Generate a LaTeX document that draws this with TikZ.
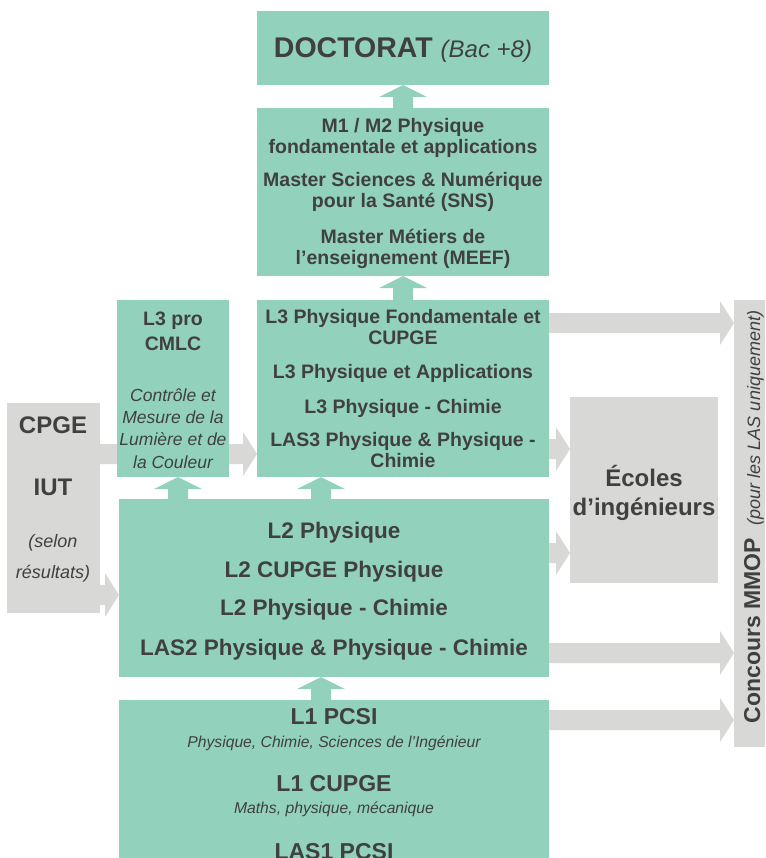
\documentclass[tikz,border=0pt]{standalone}
\usepackage{fontspec}
\setmainfont{Liberation Sans}
\usetikzlibrary{calc}
\definecolor{grn}{RGB}{146,210,189}
\definecolor{gry}{RGB}{216,217,214}
\definecolor{txt}{RGB}{64,64,64}
\newcommand\fsz[2]{\fontsize{#1}{#2}\selectfont}
% horizontal block arrow: start, tip, colour
\newcommand\harr[3]{%
  \fill[#3] let \p1=(#1), \p2=(#2) in
   (\x1,\y1+10pt) -- (\x2-14pt,\y1+10pt) -- (\x2-14pt,\y1+22pt) -- (\x2,\y1)
   -- (\x2-14pt,\y1-22pt) -- (\x2-14pt,\y1-10pt) -- (\x1,\y1-10pt) -- cycle;}
% vertical (upward) block arrow: start, tip, colour
\newcommand\varr[3]{%
  \fill[#3] let \p1=(#1), \p2=(#2) in
   (\x1-10pt,\y1) -- (\x1-10pt,\y2-12pt) -- (\x1-24pt,\y2-12pt) -- (\x1,\y2)
   -- (\x1+24pt,\y2-12pt) -- (\x1+10pt,\y2-12pt) -- (\x1+10pt,\y1) -- cycle;}
\begin{document}
\begin{tikzpicture}[x=1pt,y=-1pt,
  box/.style={draw=none, inner sep=0pt, outer sep=0pt},
  gbox/.style={box, fill=grn},
  ybox/.style={box, fill=gry},
  lbl/.style={text=txt, align=center, anchor=base, inner sep=0pt},
  bmas/.style={lbl, font=\fsz{19.5}{21}\bfseries},
  bl2/.style={lbl, font=\fsz{22.5}{24}\bfseries},
  bl1/.style={lbl, font=\fsz{23}{25}\bfseries},
  il1/.style={lbl, font=\fsz{15.7}{18}\itshape},
  big/.style={lbl, font=\fsz{24}{29}\bfseries}]
\useasboundingbox (0,0) rectangle (765,858);
\clip (0,0) rectangle (765,858);

% boxes
\node[gbox, minimum width=292pt, minimum height=74pt]  (doc) at (403,48) {};
\node[gbox, minimum width=292pt, minimum height=168pt] (mst) at (403,192) {};
\node[gbox, minimum width=292pt, minimum height=177pt] (l3)  at (403,388.5) {};
\node[ybox, minimum width=93pt,  minimum height=210pt] (cpge) at (53.5,508) {};
\node[gbox, minimum width=430pt, minimum height=178pt] (l2)  at (334,588) {};
\node[gbox, minimum width=430pt, minimum height=170pt] (l1)  at (334,785) {};
\node[ybox, minimum width=148pt, minimum height=186pt] (ec)  at (644,490) {};
\node[ybox, minimum width=31pt,  minimum height=447pt] (conc) at (749.5,523.5) {};

% arrow behind L3 pro
\harr{cpge.east |- 0,454}{l3.west |- 0,454}{gry}
\node[gbox, minimum width=112pt, minimum height=177pt] (l3p) at (173,388.5) {};

% green arrows
\varr{mst.north}{doc.south}{grn}
\varr{l3.north}{mst.south}{grn}
\varr{l2.north -| 178,0}{l3p.south -| 178,0}{grn}
\varr{l2.north -| 321,0}{l3.south -| 321,0}{grn}
\varr{l1.north -| 321,0}{l2.south -| 321,0}{grn}

% grey arrows
\harr{cpge.east |- 0,595}{l2.west |- 0,595}{gry}
\harr{l3.east |- 0,323}{conc.west |- 0,323}{gry}
\harr{l3.east |- 0,449}{ec.west |- 0,449}{gry}
\harr{l2.east |- 0,553}{ec.west |- 0,553}{gry}
\harr{l2.east |- 0,653}{conc.west |- 0,653}{gry}
\harr{l1.east |- 0,720}{conc.west |- 0,720}{gry}

% texts (base anchor = baseline of the last line)
\node[lbl] (tdoc) at (403,58) {\fsz{28.5}{30}\bfseries DOCTORAT \fsz{24}{28}\mdseries\itshape (Bac +8)};

\node[bmas] (tm1) at (403,154) {M1 / M2 Physique\\fondamentale et applications};
\node[bmas] (tm2) at (403,208) {Master Sciences \& Numérique\\pour la Santé (SNS)};
\node[bmas] (tm3) at (403,265) {Master Métiers de\\l’enseignement (MEEF)};

\node[bmas] (t31) at (403,344) {L3 Physique Fondamentale et\\CUPGE};
\node[bmas] (t32) at (403,378) {L3 Physique et Applications};
\node[bmas] (t33) at (403,413) {L3 Physique - Chimie};
\node[bmas] (t34) at (403,467) {LAS3 Physique \& Physique -\\Chimie};

\node[lbl, font=\fsz{19.5}{25}\bfseries] (tp1) at (173,350) {L3 pro\\CMLC};
\node[lbl, font=\fsz{17.5}{22.3}\itshape] (tp2) at (173,468) {Contrôle et\\Mesure de la\\Lumière et de\\la Couleur};

\node[big] (tc1) at (53,433) {CPGE};
\node[big] (tc2) at (53,495) {IUT};
\node[lbl, font=\fsz{18}{31}\itshape] (tc3) at (53,578) {(selon\\résultats)};

\node[big] (tec) at (644,515) {Écoles\\d’ingénieurs};

\node[bl2] (t21) at (334,538) {L2 Physique};
\node[bl2] (t22) at (334,577) {L2 CUPGE Physique};
\node[bl2] (t23) at (334,615) {L2 Physique - Chimie};
\node[bl2] (t24) at (334,655) {LAS2 Physique \& Physique - Chimie};

\node[bl1] (t11) at (334,724) {L1 PCSI};
\node[il1] (t12) at (334,747) {Physique, Chimie, Sciences de l’Ingénieur};
\node[bl1] (t13) at (334,791) {L1 CUPGE};
\node[il1] (t14) at (334,813) {Maths, physique, mécanique};
\node[bl1] (t15) at (334,859) {LAS1 PCSI};

\node[lbl, rotate=90] (tcon) at (760,517) {\fsz{23}{25}\bfseries Concours MMOP\ \ \fsz{18}{20}\mdseries\itshape (pour les LAS uniquement)};
\end{tikzpicture}
\end{document}
